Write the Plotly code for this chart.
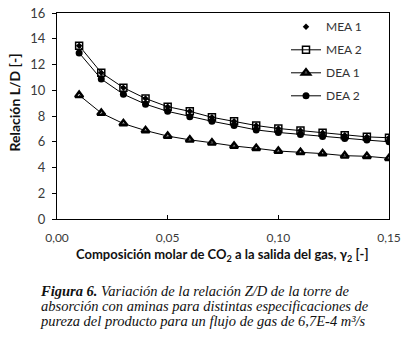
import plotly.graph_objects as go

x_vals = [0.01, 0.02, 0.03, 0.04, 0.05, 0.06, 0.07, 0.08, 0.09, 0.10, 0.11, 0.12, 0.13, 0.14, 0.15]
mea1 = [13.46, 11.36, 10.20, 9.36, 8.72, 8.36, 7.90, 7.59, 7.26, 7.03, 6.87, 6.69, 6.51, 6.38, 6.31]
mea2 = [13.46, 11.36, 10.20, 9.36, 8.72, 8.36, 7.90, 7.59, 7.26, 7.03, 6.87, 6.69, 6.51, 6.38, 6.31]
dea1 = [9.62, 8.23, 7.41, 6.87, 6.44, 6.15, 5.92, 5.67, 5.49, 5.28, 5.18, 5.08, 4.92, 4.87, 4.72]
dea2 = [12.90, 10.87, 9.69, 8.92, 8.36, 7.95, 7.59, 7.26, 6.92, 6.72, 6.56, 6.41, 6.26, 6.13, 6.00]
x_ticks = [0.0, 0.05, 0.10, 0.15]
x_tick_labels = ["0,00", "0,05", "0,10", "0,15"]
y_ticks = [0, 2, 4, 6, 8, 10, 12, 14, 16]

x_title = "Composición molar de CO<sub>2</sub> a la salida del gas, γ<sub>2</sub> [-]"
y_title = "Relación L/D [-]"
caption_lines = [
    "<b>Figura 6.</b> Variación de la relación Z/D de la torre de",
    "absorción con aminas para distintas especificaciones de",
    "pureza del producto para un flujo de gas de 6,7E-4 m³/s",
]

# window and plot area in window pixels (page body margin removed below)
WIN_W, WIN_H = 406, 358
L, R, T, B = 57, 389, 12.7, 219.3


def px(xp):
    return (xp - L) / (R - L)


def py(yp):
    return (B - yp) / (B - T)


fig = go.Figure()
fig.add_trace(go.Scatter(x=x_vals, y=mea1, name="MEA 1", mode="markers", legendgroup="a",
                         marker=dict(symbol="diamond", size=5, color="black")))
fig.add_trace(go.Scatter(x=x_vals, y=mea2, name="MEA 2", mode="lines+markers", legendgroup="b",
                         line=dict(color="black", width=1),
                         marker=dict(symbol="square-open", size=7, color="black", line=dict(width=1.5))))
fig.add_trace(go.Scatter(x=x_vals, y=dea1, name="DEA 1", mode="lines+markers", legendgroup="c",
                         line=dict(color="black", width=1),
                         marker=dict(symbol="triangle-up-open", size=7, color="black", line=dict(width=2.5))))
fig.add_trace(go.Scatter(x=x_vals, y=dea2, name="DEA 2", mode="lines+markers", legendgroup="d",
                         line=dict(color="black", width=1),
                         marker=dict(symbol="circle", size=7, color="black")))

fig.update_layout(
    width=WIN_W, height=WIN_H,
    margin=dict(l=L, r=WIN_W - R, t=T, b=WIN_H - B),
    paper_bgcolor="white", plot_bgcolor="white",
    font=dict(family="Lato", color="#222222"),
    showlegend=True,
    legend=dict(x=px(286), y=py(12), xanchor="left", yanchor="top",
                bgcolor="rgba(0,0,0,0)", font=dict(size=12, color="#333333"),
                traceorder="grouped", tracegroupgap=4, itemwidth=30),
    xaxis=dict(range=[0, 0.15], tickvals=x_ticks, ticktext=x_tick_labels,
               ticks="inside", ticklen=4, tickcolor="black", automargin=False,
               ticklabelstandoff=8, ticklabeloverflow="allow",
               showline=True, linecolor="black", linewidth=1, mirror=True,
               showgrid=False, zeroline=False,
               tickfont=dict(size=12, color="#3a3a3a")),
    yaxis=dict(range=[0, 16], tickvals=y_ticks, automargin=False,
               ticks="outside", ticklen=4, tickcolor="black",
               ticklabelstandoff=4, ticklabeloverflow="allow",
               showline=True, linecolor="black", linewidth=1, mirror=True,
               showgrid=False, zeroline=False,
               tickfont=dict(size=13, color="#3a3a3a")),
)

fig.add_annotation(text="<b>" + y_title + "</b>", xref="paper", yref="paper",
                   x=px(15), y=py(102.5), xanchor="center", yanchor="middle",
                   textangle=-90, showarrow=False,
                   font=dict(family="Lato", size=14, color="#111111"))
fig.add_annotation(text="<b>" + x_title + "</b>", xref="paper", yref="paper",
                   x=px(221.5), y=py(255), xanchor="center", yanchor="middle",
                   showarrow=False,
                   font=dict(family="Lato", size=13, color="#111111"))

caption_pos = [(194, 291.5), (205, 307), (203, 321.5)]
for line, (cx, cy) in zip(caption_lines, caption_pos):
    fig.add_annotation(text="<i>" + line + "</i>", xref="paper", yref="paper",
                       x=px(cx), y=py(cy), xanchor="center", yanchor="middle",
                       showarrow=False,
                       font=dict(family="Liberation Serif", size=14.5, color="#111111"))

fig.write_html("out.html",
               config={"displayModeBar": False},
               post_script="document.body.style.margin='0';document.body.style.overflow='hidden';")
